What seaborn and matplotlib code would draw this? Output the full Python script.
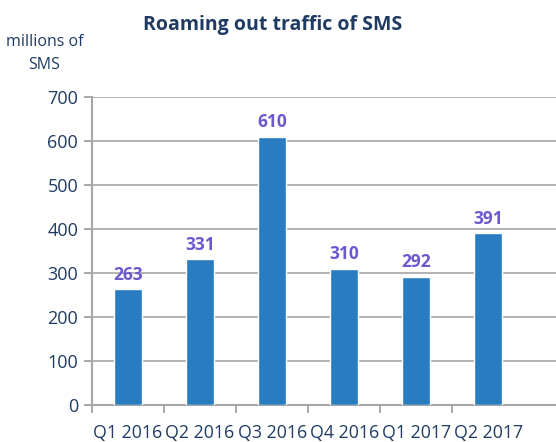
import matplotlib
matplotlib.use("Agg")
import matplotlib.pyplot as plt
import seaborn as sns
import pandas as pd

# data
quarters = ["Q1 2016", "Q2 2016", "Q3 2016", "Q4 2016", "Q1 2017", "Q2 2017"]
sms = [263, 331, 610, 310, 292, 391]
yticks = [0, 100, 200, 300, 400, 500, 600, 700]

df = pd.DataFrame({"quarter": quarters, "sms": sms})

sns.set_style("white")
plt.rcParams["font.family"] = ["Open Sans", "DejaVu Sans"]

navy = "#1F3B63"
fig = plt.figure(figsize=(5.56, 4.42), dpi=100)
ax = fig.add_axes([0.1655, 0.0837, 0.8345, 0.6968])

sns.barplot(data=df, x="quarter", y="sms", color="#2B7BC0", width=0.39,
            saturation=1, ax=ax, zorder=3)

for i, v in enumerate(sms):
    ax.text(i, v + 12, str(v), ha="center", va="bottom", fontsize=12.5,
            fontweight="bold", color="#6A5ACD")

ax.set_ylim(0, 700)
ax.set_yticks(yticks)
ax.set_xlim(-0.5, 5.94)
# category separators as major ticks, labels on minor ticks
ax.set_xticks([x - 0.5 for x in range(6)], minor=False)
ax.set_xticklabels([])
ax.set_xticks(range(6), minor=True)
ax.set_xticklabels(quarters, minor=True)
ax.tick_params(axis="x", which="major", length=6, width=1.2, color="#999999",
               direction="out", bottom=True)
ax.tick_params(axis="x", which="minor", length=0, pad=14, labelsize=12.8,
               labelcolor=navy)
ax.tick_params(axis="y", length=6, width=1.2, color="#999999", labelsize=13,
               labelcolor=navy, pad=4, left=True)
ax.grid(axis="y", color="#A6A6A6", linewidth=1.2, zorder=0)
ax.set_xlabel("")
ax.set_ylabel("")
for s in ["top", "right"]:
    ax.spines[s].set_visible(False)
ax.spines["left"].set_color("#A6A6A6")
ax.spines["left"].set_linewidth(1.5)
ax.spines["bottom"].set_color("#A6A6A6")
ax.spines["bottom"].set_linewidth(1.5)

fig.text(0.49, 0.943, "Roaming out traffic of SMS", ha="center", va="center",
         fontsize=14, fontweight="bold", color=navy)
fig.text(0.08, 0.905, "millions of", ha="center", va="center", fontsize=11.5,
         color=navy)
fig.text(0.08, 0.853, "SMS", ha="center", va="center", fontsize=11.5,
         color=navy)

fig.savefig("out.png", dpi=100)
